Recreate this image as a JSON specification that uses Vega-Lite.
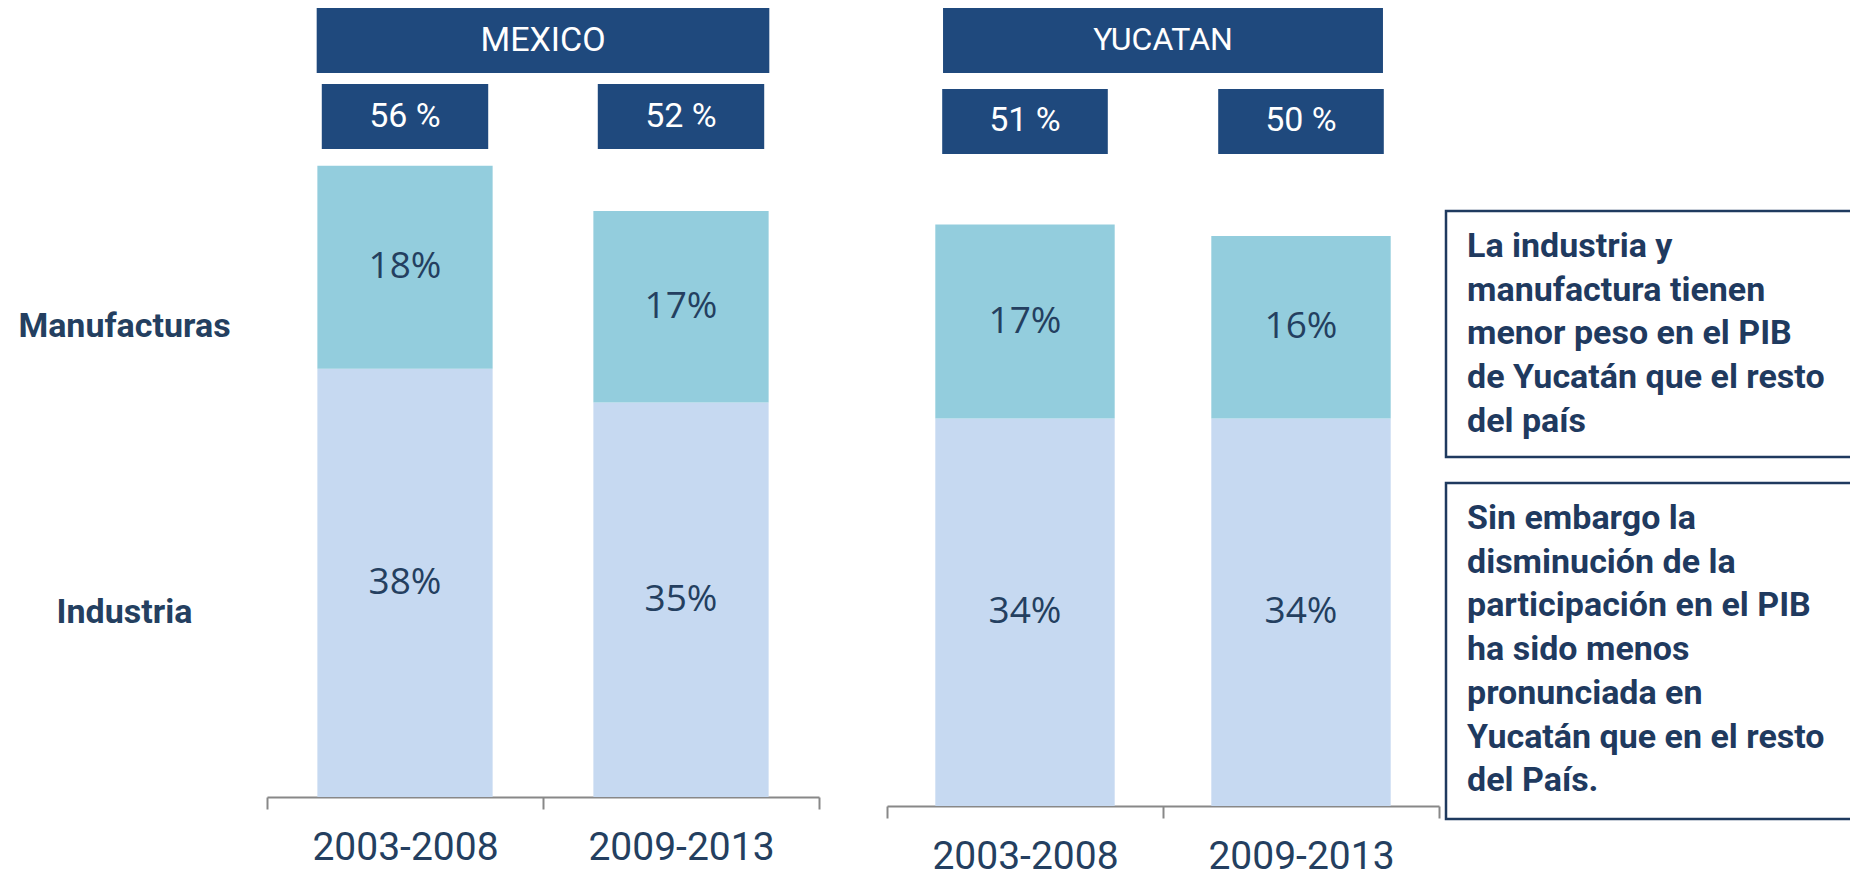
{
  "$schema": "https://vega.github.io/schema/vega-lite/v6.json",
  "background": "white",
  "padding": {"left": 17, "top": 8, "right": 0, "bottom": 0},
  "config": {"view": {"stroke": null}, "axis": {"grid": false}},
  "data": {"values": [
    {"country": "MEXICO", "period": "2003-2008", "sector": "Industria", "value": 38},
    {"country": "MEXICO", "period": "2003-2008", "sector": "Manufacturas", "value": 18},
    {"country": "MEXICO", "period": "2009-2013", "sector": "Industria", "value": 35},
    {"country": "MEXICO", "period": "2009-2013", "sector": "Manufacturas", "value": 17},
    {"country": "YUCATAN", "period": "2003-2008", "sector": "Industria", "value": 34},
    {"country": "YUCATAN", "period": "2003-2008", "sector": "Manufacturas", "value": 17},
    {"country": "YUCATAN", "period": "2009-2013", "sector": "Industria", "value": 34},
    {"country": "YUCATAN", "period": "2009-2013", "sector": "Manufacturas", "value": 16}
  ]},
  "spacing": 4,
  "hconcat": [
    {
      "spacing": 66,
      "resolve": {"scale": {"x": "independent", "y": "independent"}},
      "hconcat": [
        {
          "width": 552,
          "height": 789,
          "transform": [{"filter": "datum.country === 'MEXICO'"}],
          "resolve": {"scale": {"x": "independent"}},
          "layer": [
            {
              "layer": [
                {
                  "mark": {"type": "bar", "width": {"band": 0.635}},
                  "encoding": {
                    "x": {"field": "period", "type": "nominal",
                      "scale": {"paddingInner": 0, "paddingOuter": 0},
                      "axis": {"title": null, "labelAngle": 0, "tickBand": "extent", "tickSize": 12, "tickColor": "#888888", "tickWidth": 2, "domainColor": "#888888", "domainWidth": 2, "labelFont": "Roboto", "labelFontSize": 39, "labelColor": "#243F60", "labelPadding": 19, "labelLimit": 0}},
                    "y": {"field": "value", "type": "quantitative", "stack": "zero",
                      "scale": {"domain": [0, 70], "nice": false},
                      "axis": {"title": null, "values": [16.4, 41.7], "labelExpr": "datum.value > 30 ? 'Manufacturas' : 'Industria'", "ticks": false, "domain": false, "grid": false, "labelAlign": "center", "labelBaseline": "middle", "labelPadding": 143, "labelLimit": 0, "labelFont": "Roboto", "labelFontWeight": "bold", "labelFontSize": 34, "labelColor": "#243F60"}},
                    "color": {"field": "sector", "type": "nominal", "scale": {"domain": ["Industria", "Manufacturas"], "range": ["#C6D9F1", "#93CDDD"]}, "legend": null},
                    "order": {"field": "sector", "sort": "ascending"}
                  }
                },
                {
                  "transform": [
                    {"stack": "value", "groupby": ["period"], "sort": [{"field": "sector", "order": "ascending"}], "as": ["v0", "v1"]},
                    {"calculate": "(datum.v0 + datum.v1) / 2", "as": "mid"},
                    {"calculate": "datum.value + '%'", "as": "label"}
                  ],
                  "mark": {"type": "text", "font": "Open Sans", "fontSize": 37, "color": "#243F60", "baseline": "middle"},
                  "encoding": {
                    "x": {"field": "period", "type": "nominal"},
                    "y": {"field": "mid", "type": "quantitative"},
                    "text": {"field": "label"}
                  }
                },
                {
                  "transform": [
                    {"aggregate": [{"op": "sum", "field": "value", "as": "total"}], "groupby": ["period"]},
                    {"calculate": "datum.total + ' %'", "as": "label"}
                  ],
                  "layer": [
                    {
                      "mark": {"type": "bar", "width": {"band": 0.603}, "color": "#1F497D"},
                      "encoding": {"x": {"field": "period", "type": "nominal"}, "y": {"datum": 63.26}, "y2": {"datum": 57.49}}
                    },
                    {
                      "mark": {"type": "text", "color": "white", "font": "Roboto", "fontSize": 34, "baseline": "middle"},
                      "encoding": {"x": {"field": "period", "type": "nominal"}, "y": {"datum": 60.33}, "text": {"field": "label"}}
                    }
                  ]
                }
              ]
            },
            {
              "transform": [{"aggregate": [{"op": "count", "as": "n"}], "groupby": ["country"]}],
              "layer": [
                {
                  "mark": {"type": "bar", "width": {"band": 0.82}, "color": "#1F497D"},
                  "encoding": {"x": {"field": "country", "type": "nominal", "axis": null, "scale": {"paddingInner": 0, "paddingOuter": 0}}, "y": {"datum": 70}, "y2": {"datum": 64.23}}
                },
                {
                  "mark": {"type": "text", "color": "white", "font": "Roboto", "fontSize": 34, "baseline": "middle"},
                  "encoding": {"x": {"field": "country", "type": "nominal", "axis": null}, "y": {"datum": 67.1}, "text": {"field": "country"}}
                }
              ]
            }
          ]
        },
        {
          "width": 552,
          "height": 798,
          "transform": [{"filter": "datum.country === 'YUCATAN'"}],
          "resolve": {"scale": {"x": "independent"}},
          "layer": [
            {
              "layer": [
                {
                  "mark": {"type": "bar", "width": {"band": 0.65}},
                  "encoding": {
                    "x": {"field": "period", "type": "nominal",
                      "scale": {"paddingInner": 0, "paddingOuter": 0},
                      "axis": {"title": null, "labelAngle": 0, "tickBand": "extent", "tickSize": 12, "tickColor": "#888888", "tickWidth": 2, "domainColor": "#888888", "domainWidth": 2, "labelFont": "Roboto", "labelFontSize": 39, "labelColor": "#243F60", "labelPadding": 19, "labelLimit": 0}},
                    "y": {"field": "value", "type": "quantitative", "stack": "zero",
                      "scale": {"domain": [0, 70], "nice": false}, "axis": null},
                    "color": {"field": "sector", "type": "nominal", "scale": {"domain": ["Industria", "Manufacturas"], "range": ["#C6D9F1", "#93CDDD"]}, "legend": null},
                    "order": {"field": "sector", "sort": "ascending"}
                  }
                },
                {
                  "transform": [
                    {"stack": "value", "groupby": ["period"], "sort": [{"field": "sector", "order": "ascending"}], "as": ["v0", "v1"]},
                    {"calculate": "(datum.v0 + datum.v1) / 2", "as": "mid"},
                    {"calculate": "datum.value + '%'", "as": "label"}
                  ],
                  "mark": {"type": "text", "font": "Open Sans", "fontSize": 37, "color": "#243F60", "baseline": "middle"},
                  "encoding": {
                    "x": {"field": "period", "type": "nominal"},
                    "y": {"field": "mid", "type": "quantitative"},
                    "text": {"field": "label"}
                  }
                },
                {
                  "transform": [
                    {"aggregate": [{"op": "sum", "field": "value", "as": "total"}], "groupby": ["period"]},
                    {"calculate": "datum.total + ' %'", "as": "label"}
                  ],
                  "layer": [
                    {
                      "mark": {"type": "bar", "width": {"band": 0.6}, "color": "#1F497D"},
                      "encoding": {"x": {"field": "period", "type": "nominal"}, "y": {"datum": 62.9}, "y2": {"datum": 57.2}}
                    },
                    {
                      "mark": {"type": "text", "color": "white", "font": "Roboto", "fontSize": 34, "baseline": "middle"},
                      "encoding": {"x": {"field": "period", "type": "nominal"}, "y": {"datum": 60.05}, "text": {"field": "label"}}
                    }
                  ]
                }
              ]
            },
            {
              "transform": [{"aggregate": [{"op": "count", "as": "n"}], "groupby": ["country"]}],
              "layer": [
                {
                  "mark": {"type": "bar", "width": {"band": 0.797}, "color": "#1F497D"},
                  "encoding": {"x": {"field": "country", "type": "nominal", "axis": null, "scale": {"paddingInner": 0, "paddingOuter": 0}}, "y": {"datum": 70}, "y2": {"datum": 64.3}}
                },
                {
                  "mark": {"type": "text", "color": "white", "font": "Roboto", "fontSize": 32, "baseline": "middle"},
                  "encoding": {"x": {"field": "country", "type": "nominal", "axis": null}, "y": {"datum": 67.19}, "text": {"field": "country"}}
                }
              ]
            }
          ]
        }
      ]
    },
    {
      "spacing": 22,
      "vconcat": [
        {
          "width": 408,
          "height": 179,
          "data": {"values": [{}]},
          "mark": {"type": "text"},
          "encoding": {"text": {"value": ""}}
        },
        {
          "width": 408,
          "height": 246,
          "view": {"stroke": "#1F3A5F", "strokeWidth": 2.5},
          "data": {"values": [{}]},
          "mark": {"type": "text", "align": "left", "baseline": "alphabetic", "dx": -183, "dy": -77, "font": "Roboto", "fontWeight": "bold", "fontSize": 34, "lineHeight": 43.7, "color": "#1F3A5F"},
          "encoding": {"text": {"value": ["La industria y", "manufactura tienen", "menor peso en el PIB", "de Yucatán que el resto", "del país"]}}
        },
        {
          "width": 408,
          "height": 336,
          "view": {"stroke": "#1F3A5F", "strokeWidth": 2.5},
          "data": {"values": [{}]},
          "mark": {"type": "text", "align": "left", "baseline": "alphabetic", "dx": -183, "dy": -122, "font": "Roboto", "fontWeight": "bold", "fontSize": 34, "lineHeight": 43.7, "color": "#1F3A5F"},
          "encoding": {"text": {"value": ["Sin embargo la", "disminución de la", "participación en el PIB", "ha sido menos", "pronunciada en", "Yucatán que en el resto", "del País."]}}
        }
      ]
    }
  ]
}
